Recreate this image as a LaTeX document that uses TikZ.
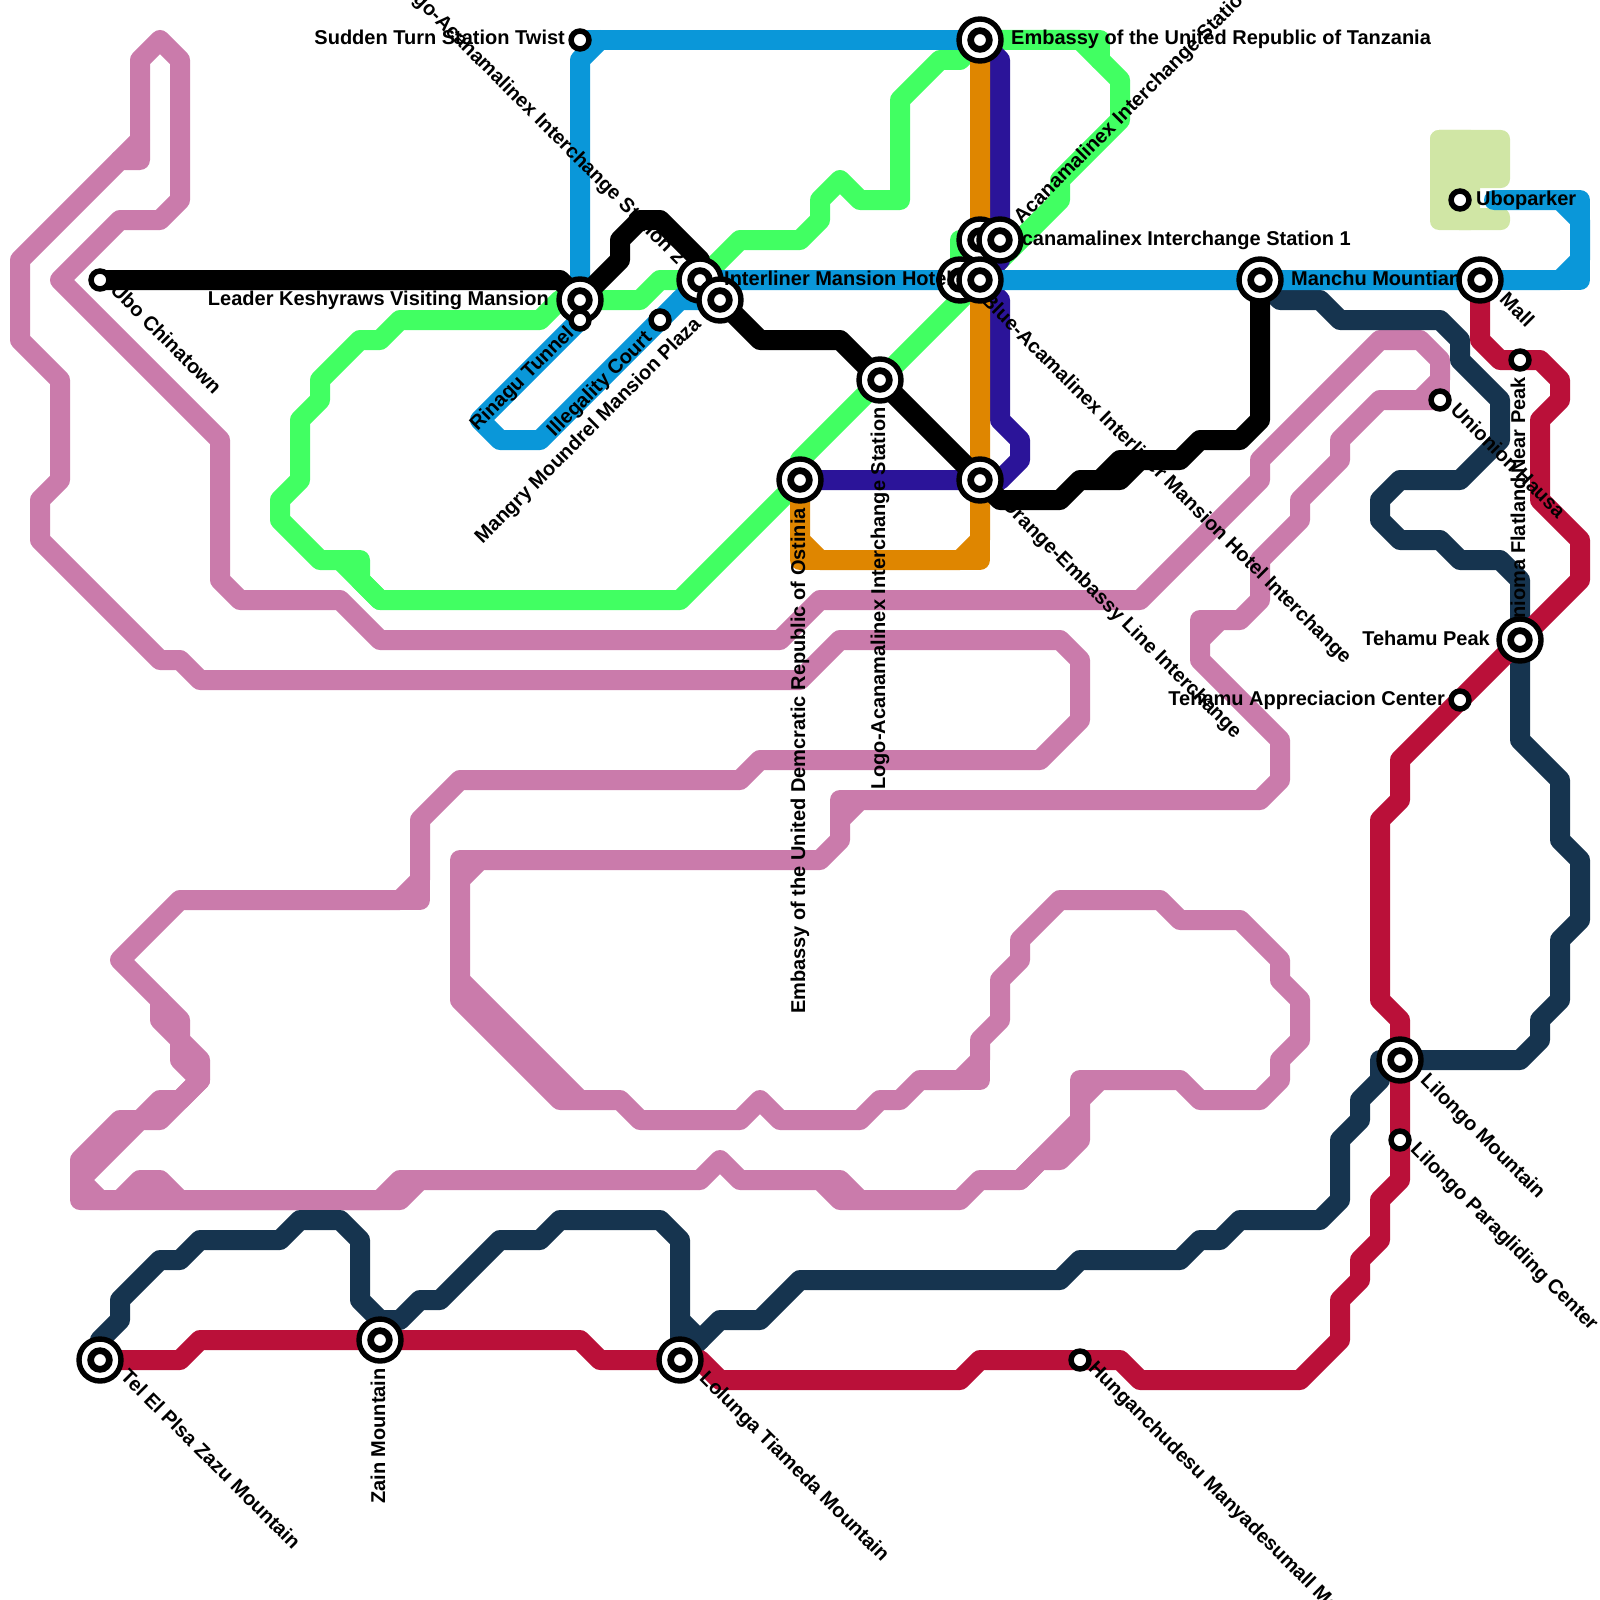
\documentclass[tikz,border=0pt]{standalone}
\usepackage{fontspec}
\setmainfont{Liberation Sans}
\definecolor{cblue}{HTML}{0A97D9}
\definecolor{corange}{HTML}{DF8600}
\definecolor{cindigo}{HTML}{2B1499}
\definecolor{cgreen}{HTML}{41FF62}
\definecolor{cnavy}{HTML}{16344F}
\definecolor{ccrim}{HTML}{BA1039}
\definecolor{cpink}{HTML}{CA7BAB}
\definecolor{cpark}{HTML}{D0E6A5}
\pgfdeclarelayer{lines}
\pgfdeclarelayer{labels}
\pgfsetlayers{lines,labels,main}
\tikzset{
 mline/.style={line width=20pt,line cap=round,line join=round},
 pinkl/.style={mline,draw=cpink},
 navyl/.style={mline,draw=cnavy},
 criml/.style={mline,draw=ccrim},
 greenl/.style={mline,draw=cgreen},
 indigol/.style={mline,draw=cindigo},
 orangel/.style={mline,draw=corange},
 bluel/.style={mline,draw=cblue},
 blackl/.style={mline,draw=black},
 parkb/.style={fill=cpark,rounded corners=9pt},
 inter/.style={circle,draw=black,fill=white,line width=5.4pt,minimum size=42pt,inner sep=0pt,outer sep=0pt,
   path picture={\draw[black,line width=6.7pt] (path picture bounding box.center) circle (9.35pt);}},
 small/.style={circle,draw=black,fill=white,line width=5.5pt,minimum size=17.9pt,inner sep=0pt,outer sep=0pt},
 lab/.style={inner sep=0pt,text=black,text height=15pt,text depth=5pt,font=\bfseries\fontsize{20}{22}\selectfont},
}
\begin{document}
\begin{tikzpicture}[x=20pt,y=-20pt]
\useasboundingbox (0,0) rectangle (80,80);
% stations
\node[small] (ubo) at (5,14) {};
\node[inter] (leader) at (29,15) {};
\node[small] (rinagu) at (29,16) {};
\node[small] (sudden) at (29,2) {};
\node[small] (illegal) at (33,16) {};
\node[inter] (logotwo) at (35,14) {};
\node[inter] (mangry) at (36,15) {};
\node[inter] (interl) at (48,14) {};
\node[lab,anchor=west] (t10) at (724pt,-280pt) {Interliner Mansion Hotel};
\node[inter] (acan) at (49,12) {};
\node[inter] (acanone) at (50,12) {};
\node[inter] (bluea) at (49,14) {};
\node[inter] (tanz) at (49,2) {};
\node[inter] (orangee) at (49,24) {};
\node[inter] (ostinia) at (40,24) {};
\node[inter] (logoint) at (44,19) {};
\node[inter] (manchu) at (63,14) {};
\node[inter] (mall) at (74,14) {};
\node[small] (uboparker) at (73,10) {};
\node[small] (nearpeak) at (76,18) {};
\node[small] (unionion) at (72,20) {};
\node[inter] (tehamu) at (76,32) {};
\node[small] (apprec) at (73,35) {};
\node[inter] (lilongo) at (70,53) {};
\node[small] (paragl) at (70,57) {};
\node[small] (hungan) at (54,68) {};
\node[inter] (lolunga) at (34,68) {};
\node[inter] (zain) at (19,67) {};
\node[inter] (telel) at (5,68) {};
\coordinate (blueend) at (74.7,10);
\begin{pgfonlayer}{lines}
% park
\fill[parkb] (1430pt,-130pt) rectangle (1510pt,-188pt);
\fill[parkb] (1430pt,-130pt) rectangle (1480pt,-230pt);
\fill[parkb] (1450pt,-208pt) rectangle (1510pt,-230pt);
% pink
\draw[pinkl] (unionion.center)--(69,20)--(67,22)--(67,23)--(65,25)--(65,26)--(63,28)--(63,30)--(62,31)--(60,31)--(60,33)--(64,37)--(64,39)--(63,40)--(43,40)--(42,41)--(42,42)--(41,43)--(24,43)--(23,44)--(23,50)--(28,55)--(31,55)--(32,56)--(37,56)--(38,55)--(39,56)--(43,56)--(44,55)--(45,55)--(46,54)--(48,54)--(49,53)--(49,52)--(50,51)--(50,49)--(51,48)--(51,47)--(53,45)--(58,45)--(59,46)--(62,46)--(64,48)--(64,49)--(65,50)--(65,52)--(64,53)--(64,54)--(63,55)--(60,55)--(59,54)--(55,54)--(54,55)--(54,57)--(53,58)--(52,58)--(51,59)--(49,59)--(48,60)--(42,60)--(41,59)--(37,59)--(36,58)--(35,59)--(20,59)--(19,60)--(9,60)--(8,59)--(7,59)--(6,60)--(5,60)--(4,59)--(7,56)--(8,56)--(10,54)--(10,53)--(9,52)--(9,51)--(6,48)--(9,45)--(20,45)--(21,44)--(21,41)--(23,39)--(37,39)--(38,38)--(52,38)--(54,36)--(54,33)--(53,32)--(42,32)--(40,34)--(10,34)--(9,33)--(8,33)--(2,27)--(2,25)--(3,24)--(3,19)--(1,17)--(1,13)--(6,8)--(7,8)--(7,3)--(8,2)--(9,3)--(9,10)--(8,11)--(6,11)--(3,14)--(11,22)--(11,29)--(12,30)--(17,30)--(19,32)--(39,32)--(41,30)--(57,30)--(63,24)--(63,23)--(69,17)--(71,17)--(72,18)--(72,19)--(71,20);
\draw[pinkl] (72,19)--(unionion.center);
\draw[pinkl] (43,40)--(42,40)--(42,41);
\draw[pinkl] (24,43)--(23,43)--(23,44);
\draw[pinkl] (23,49)--(29,55);
\draw[pinkl] (5,60)--(20,60)--(21,59);
\draw[pinkl] (48,54)--(49,54)--(49,53);
\draw[pinkl] (55,54)--(54,54)--(54,55);
\draw[pinkl] (54,56)--(51,59);
\draw[pinkl] (41,59)--(42,59)--(43,60);
\draw[pinkl] (5,60)--(4,60)--(4,58)--(6,56)--(7,56);
\draw[pinkl] (8,50)--(8,51)--(9,52)--(9,53)--(10,54);
\draw[pinkl] (7,56)--(8,55)--(9,55)--(10,54);
\draw[pinkl] (7,7)--(6,8);
\draw[pinkl] (61,31)--(60,32);
\draw[pinkl] (20,45)--(21,45)--(21,44);
% navy
\draw[navyl] (manchu.center)--(64,15)--(66,15)--(67,16)--(72,16)--(73,17)--(73,18)--(75,20)--(75,22)--(73,24)--(70,24)--(69,25)--(69,26)--(70,27)--(72,27)--(73,28)--(75,28)--(76,29)--(tehamu.center)--(76,37)--(78,39)--(78,42)--(79,43)--(79,46)--(78,47)--(78,50)--(77,51)--(77,52)--(76,53)--(lilongo.center);
\draw[navyl] (lilongo.center)--(69,53)--(69,54)--(68,55)--(68,56)--(67,57)--(67,60)--(66,61)--(62,61)--(61,62)--(60,62)--(59,63)--(54,63)--(53,64)--(40,64)--(38,66)--(36,66)--(35,67)--(lolunga.center);
\draw[navyl] (lolunga.center)--(34,62)--(33,61)--(28,61)--(27,62)--(25,62)--(22,65)--(21,65)--(20,66)--(19,66)--(zain.center);
\draw[navyl] (34,66)--(35,67);
\draw[navyl] (19,66)--(18,65)--(18,62)--(17,61)--(15,61)--(14,62)--(10,62)--(9,63)--(8,63)--(6,65)--(6,66)--(5,67)--(telel.center);
% crimson
\draw[criml] (mall.center)--(74,17)--(75,18)--(nearpeak.center)--(77,18)--(78,19)--(78,20)--(77,21)--(77,25)--(79,27)--(79,29)--(tehamu.center)--(apprec.center)--(70,38)--(70,40)--(69,41)--(69,50)--(70,51)--(lilongo.center)--(paragl.center)--(70,59)--(69,60)--(69,62)--(68,63)--(68,64)--(67,65)--(67,67)--(65,69)--(57,69)--(56,68)--(hungan.center)--(49,68)--(48,69)--(36,69)--(35,68)--(lolunga.center)--(30,68)--(29,67)--(zain.center)--(10,67)--(9,68)--(telel.center);
% green
\draw[greenl] (tanz.center)--(54,2)--(55,3)--(56,4)--(56,6)--(53,9)--(53,10)--(50,13)--(bluea.center)--(logoint.center)--(40,23)--(ostinia.center)--(34,30)--(19,30)--(18,29)--(18,28)--(16,28)--(14,26)--(14,25)--(15,24)--(15,21)--(16,20)--(16,19)--(18,17)--(19,17)--(20,16)--(27,16)--(28,15)--(leader.center)--(32,15)--(33,14)--(logotwo.center)--(37,12)--(40,12)--(41,11)--(41,10)--(42,9)--(43,10)--(45,10)--(45,5)--(47,3)--(48,3)--(tanz.center);
\draw[greenl] (54,2)--(55,2)--(55,3);
\draw[greenl] (17,28)--(19,30);
\draw[greenl] (acan.center)--(48,12)--(48,14)--(bluea.center);
% indigo
\draw[indigol] (tanz.center)--(50,3)--(50,13)--(bluea.center)--(50,15)--(50,21)--(51,22)--(51,23)--(50,24)--(orangee.center)--(ostinia.center);
% orange
\draw[orangel] (tanz.center)--(orangee.center)--(49,27)--(48,28)--(41,28)--(40,27)--(ostinia.center);
\draw[orangel] (49,27)--(49,28)--(48,28);
\draw[orangel] (41,28)--(40,28)--(40,27);
% blue
\draw[bluel] (sudden.center)--(tanz.center);
\draw[bluel] (30,2)--(29,3)--(leader.center);
\draw[bluel] (rinagu.center)--(24,21)--(25,22)--(27,22)--(illegal.center)--(34,15)--(mangry.center);
\draw[bluel] (34,15)--(logotwo.center);
\draw[bluel] (logotwo.center)--(interl.center)--(bluea.center)--(manchu.center)--(mall.center)--(78,14)--(79,13)--(79,11)--(78,10)--(blueend);
\draw[bluel] (78,10)--(79,10)--(79,14)--(78,14);
% black
\draw[blackl] (ubo.center)--(28,14)--(leader.center)--(31,13)--(31,12)--(32,11)--(33,11)--(35,13)--(logotwo.center)--(mangry.center)--(38,17)--(42,17)--(logoint.center)--(orangee.center)--(50,25)--(53,25)--(54,24)--(56,24)--(57,23);
\draw[blackl] (55,24)--(56,23)--(59,23)--(60,22)--(62,22)--(63,21)--(manchu.center);
\end{pgfonlayer}
\begin{pgfonlayer}{labels}
\node[lab,anchor=east] (t1) at (565pt,-40pt) {Sudden Turn Station Twist};
\node[lab,anchor=east] (t2) at (549pt,-300pt) {Leader Keshyraws Visiting Mansion};
\node[lab,anchor=west,rotate=45] (t3) at (474pt,-428pt) {Rinagu Tunnel};
\node[lab,anchor=west,rotate=45] (t4) at (551pt,-434pt) {Illegality Court};
\node[lab,anchor=west,rotate=45] (t5) at (479pt,-541pt) {Mangry Moundrel Mansion Plaza};
\node[lab,anchor=east,rotate=-45] (t6) at (681pt,-262pt) {Logo-Acanamalinex Interchange Station 2};
\node[lab,anchor=west] (t7) at (1011pt,-40pt) {Embassy of the United Republic of Tanzania};
\node[lab,anchor=west,rotate=45] (t8) at (1018pt,-221pt) {Acanamalinex Interchange Station};
\node[lab,anchor=east] (t9) at (1351pt,-240pt) {Acanamalinex Interchange Station 1};
\node[lab,anchor=west] (t11) at (1291pt,-280pt) {Manchu Mountian};
\node[lab,anchor=west,rotate=-45] (t12) at (984pt,-298pt) {Blue-Acamalinex Interliner Mansion Hotel Interchange};
\node[lab,anchor=west,rotate=-45] (t13) at (1004pt,-502pt) {Orange-Embassy Line Interchange};
\node[lab,anchor=west,rotate=90] (t14) at (880pt,-790pt) {Logo-Acanamalinex Interchange Station};
\node[lab,anchor=west,rotate=90] (t15) at (800pt,-1014pt) {Embassy of the United Demcratic Republic of Ostinia};
\node[lab,anchor=west,rotate=-45] (t16) at (1502pt,-297pt) {Mall};
\node[lab,anchor=west] (t17) at (1476pt,-200pt) {Uboparker};
\node[lab,anchor=west,rotate=90] (t18) at (1520pt,-474pt) {Near Peak};
\node[lab,anchor=east,rotate=90] (t19) at (1520pt,-477pt) {Unioma Flatland};
\node[lab,anchor=west,rotate=-45] (t20) at (1453pt,-408pt) {Unionion Hausa};
\node[lab,anchor=east] (t21) at (1490pt,-640pt) {Tehamu Peak};
\node[lab,anchor=east] (t22) at (1445pt,-700pt) {Tehamu Appreciacion Center};
\node[lab,anchor=west,rotate=-45] (t23) at (1423pt,-1078pt) {Lilongo Mountain};
\node[lab,anchor=west,rotate=-45] (t24) at (1413pt,-1147pt) {Lilongo Paragliding Center};
\node[lab,anchor=west,rotate=-45] (t25) at (1091pt,-1366pt) {Hunganchudesu Manyadesumall Mall};
\node[lab,anchor=west,rotate=-45] (t26) at (702pt,-1376pt) {Lolunga Tiameda Mountain};
\node[lab,anchor=west,rotate=90] (t27) at (380pt,-1504pt) {Zain Mountain};
\node[lab,anchor=west,rotate=-45] (t28) at (123pt,-1374pt) {Tel El Plsa Zazu Mountain};
\node[lab,anchor=west,rotate=-45] (t29) at (113pt,-288pt) {Ubo Chinatown};
\end{pgfonlayer}
\end{tikzpicture}
\end{document}
